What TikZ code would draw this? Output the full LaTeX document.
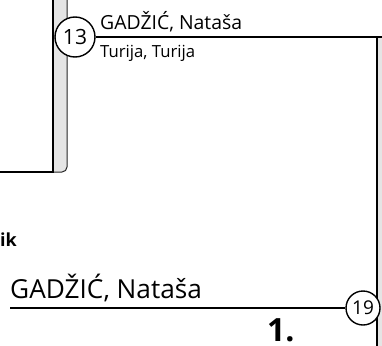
\documentclass[tikz,border=0pt]{standalone}
\usepackage{fontspec}
\setmainfont{Open Sans}
\usepackage{tikz}
\usetikzlibrary{positioning}

\begin{document}
\begin{tikzpicture}[
  x=1pt,y=-1pt,
  every node/.style={inner sep=0pt},
  badge/.style={circle,draw,line width=1.4pt,fill=white,minimum size=#1},
  persontext/.style={anchor=base west,font=\fontsize{#1}{#1}\selectfont},
  tieline/.style={line width=1.8pt},
  strip/.style={fill=black!10,draw=black!85,line width=1pt},
]
\useasboundingbox (0,0) rectangle (382,345);
% box on the left with its strip
\draw[strip] (53,-3) -- (53,172) [rounded corners=5pt] -- (67,172) -- (67,-3);
\draw[tieline] (53,-3) -- (53,172) -- (-3,172);
% strip on the right
\fill[black!10] (377,37) rectangle (385,348);
\draw[tieline] (377,37) -- (377,348);

\node (p13) [badge=40pt,font=\fontsize{21}{21}\selectfont] at (75,37) {13};
\node (p13name) [persontext=19.4] at (100,29.5) {GADŽIĆ, Nataša};
\node (p13place) [persontext=16.7] at (100,57) {Turija, Turija};
\coordinate (p13end) at (385,37);
\draw[tieline] (p13) -- (p13end);

\node (p19) [badge=34pt,font=\fontsize{19}{19}\selectfont] at (363,308) {19};
\node (p19name) [persontext=26.2] at (10,298) {GADŽIĆ, Nataša};
\coordinate (p19start) at (10,308);
\draw[tieline] (p19start) -- (p19);

\node (role) [anchor=base east,font=\fontsize{18}{18}\selectfont\bfseries] at (17,246) {ik};
\node (gen) [anchor=base west,font=\fontsize{32}{32}\selectfont\bfseries] at (267,341) {1.};
\end{tikzpicture}
\end{document}
